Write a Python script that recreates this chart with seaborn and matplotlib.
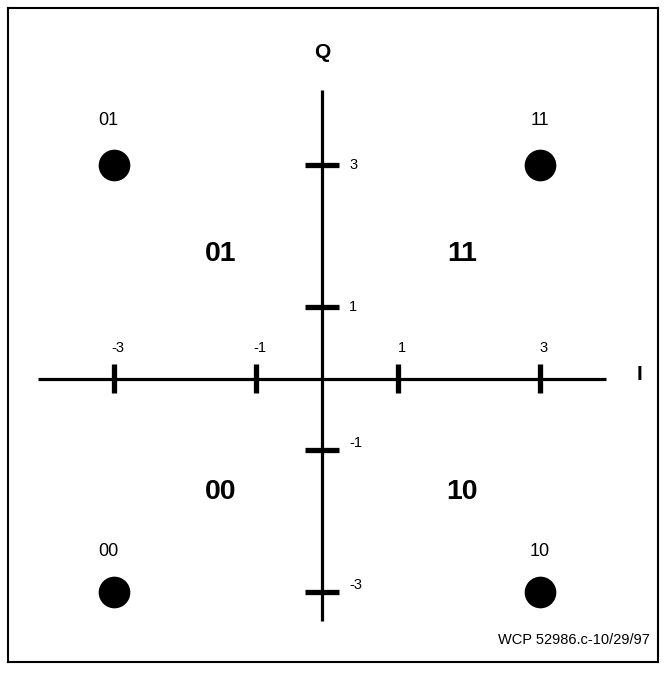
import matplotlib
matplotlib.use("Agg")
import matplotlib.pyplot as plt
import seaborn as sns
import pandas as pd

sns.set_theme(style="white")
plt.rcParams['font.family'] = ['Liberation Sans', 'DejaVu Sans']
plt.rcParams['text.color'] = 'black'

# Data
symbols = ["01", "11", "00", "10"]
sym_i = [-3, 3, -3, 3]
sym_q = [3, 3, -3, -3]
i_ticks = [-3, -1, 1, 3]
q_ticks = [3, 1, -1, -3]
region_labels = ["01", "11", "00", "10"]
region_i = [-1.5, 1.9, -1.5, 1.9]
region_q = [1.75, 1.75, -1.6, -1.6]
footer = "WCP 52986.c-10/29/97"

df = pd.DataFrame({"I": sym_i, "Q": sym_q, "label": symbols})

fig = plt.figure(figsize=(6.66, 6.79), dpi=100)
ax = fig.add_axes([8/666, 17/679, 650/666, 654/679])
ax.set_xlim(-4.493, 4.662)
ax.set_ylim(-3.982, 5.204)
ax.set_xticks([]); ax.set_yticks([])
for s in ax.spines.values():
    s.set_visible(True)
    s.set_color("black")
    s.set_linewidth(1.5)

# axes lines
q_axis_x = -0.065
ax.plot([-4.07, 3.93], [0, 0], color="black", lw=2.3, solid_capstyle="butt", zorder=2)
ax.plot([q_axis_x, q_axis_x], [4.05, -3.4], color="black", lw=2.3, solid_capstyle="butt", zorder=2)

# ticks
for t in i_ticks:
    ax.plot([t, t], [-0.2, 0.2], color="black", lw=3.8, solid_capstyle="butt", zorder=3)
    ax.text(t + 0.05, 0.33, str(t), ha="center", va="bottom", fontsize=10.5)
for t in q_ticks:
    ax.plot([q_axis_x - 0.24, q_axis_x + 0.24], [t, t], color="black", lw=3.8, solid_capstyle="butt", zorder=3)
    dy = 0.0 if t > 0 else 0.1
    ax.text(q_axis_x + 0.38, t + dy, str(t), ha="left", va="center", fontsize=10.5)

# constellation points
sns.scatterplot(data=df, x="I", y="Q", s=520, color="black", edgecolor="black",
                linewidth=0, ax=ax, legend=False, zorder=4)
for _, r in df.iterrows():
    ax.text(r["I"] - 0.08 if r["I"] < 0 else r["I"], r["Q"] + 0.5 if r["Q"] > 0 else r["Q"] + 0.45,
            r["label"], ha="center", va="bottom", fontsize=13)

# region labels
for lab, x, y in zip(region_labels, region_i, region_q):
    ax.text(x, y, lab, ha="center", va="center", fontsize=20.5, fontweight="bold")

# axis names
ax.text(4.4, 0.05, "I", ha="center", va="center", fontsize=15, fontweight="bold")
ax.text(q_axis_x, 4.58, "Q", ha="center", va="center", fontsize=15, fontweight="bold")

ax.text(4.55, -3.68, footer, ha="right", va="center", fontsize=10.5)
ax.set_xlabel(""); ax.set_ylabel("")

fig.savefig("out.png", dpi=100)
